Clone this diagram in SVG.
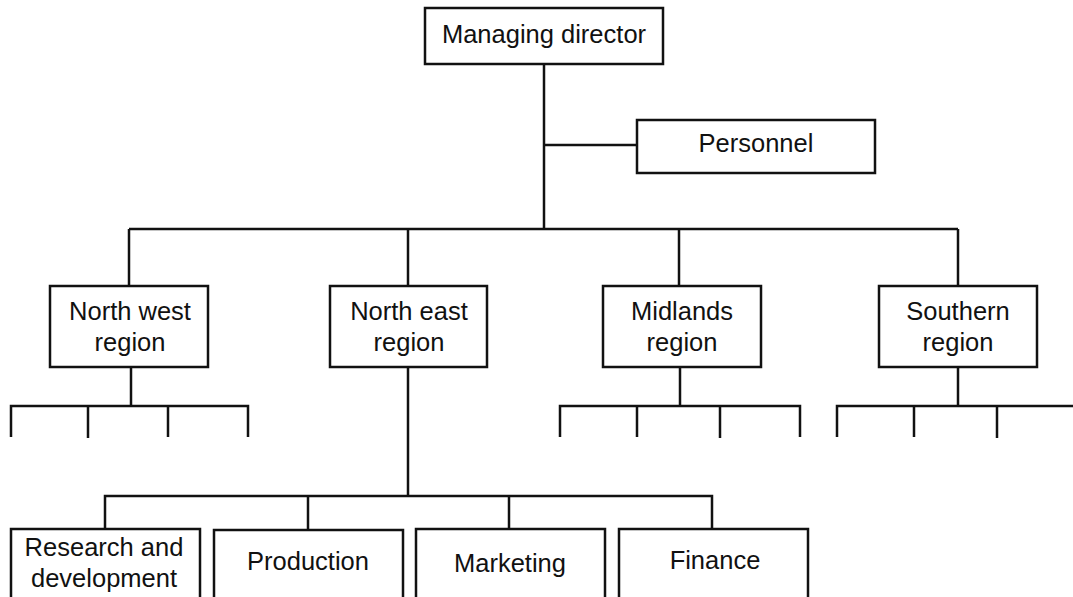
<svg xmlns="http://www.w3.org/2000/svg" width="1073" height="597" viewBox="0 0 1073 597">
  <style>
    .box { fill: #ffffff; stroke: #111111; stroke-width: 2.5; }
    .wire { fill: none; stroke: #111111; stroke-width: 2.5; stroke-linecap: butt; }
    .label { font-family: "Liberation Sans", Arial, Helvetica, sans-serif; font-size: 25.5px; fill: #111111; text-anchor: middle; }
  </style>
  <rect width="1073" height="597" fill="#ffffff"/>

  <!-- connectors -->
  <g id="connectors" class="wire">
    <!-- managing director trunk and personnel branch -->
    <path d="M544 64 V229"/>
    <path d="M544 145 H637"/>
    <!-- regional bus -->
    <path d="M129 229 H958"/>
    <path d="M129 229 V286"/>
    <path d="M408 229 V286"/>
    <path d="M679 229 V286"/>
    <path d="M958 229 V286"/>
    <!-- north west sub-branches -->
    <path d="M131 367 V406"/>
    <path d="M11 437 V406 H248 V437"/>
    <path d="M88 406 V438"/>
    <path d="M168 406 V437"/>
    <!-- midlands sub-branches -->
    <path d="M680 367 V406"/>
    <path d="M560 437 V406 H800 V437"/>
    <path d="M637 406 V437"/>
    <path d="M720 406 V438"/>
    <!-- southern sub-branches -->
    <path d="M958 367 V406"/>
    <path d="M837 437 V406 H1073"/>
    <path d="M914 406 V437"/>
    <path d="M997 406 V438"/>
    <!-- north east departments -->
    <path d="M408 367 V496"/>
    <path d="M105 529 V496 H712 V529"/>
    <path d="M308 496 V530"/>
    <path d="M509 496 V529"/>
  </g>

  <g id="managing-director">
    <rect class="box" x="425" y="8" width="238" height="56"/>
    <text class="label" x="544" y="43">Managing director</text>
  </g>

  <g id="personnel">
    <rect class="box" x="637" y="120" width="238" height="53"/>
    <text class="label" x="756" y="152">Personnel</text>
  </g>

  <g id="north-west-region">
    <rect class="box" x="50" y="286" width="158" height="81"/>
    <text class="label" x="130" y="320">North west</text>
    <text class="label" x="130" y="351">region</text>
  </g>

  <g id="north-east-region">
    <rect class="box" x="330" y="286" width="157" height="81"/>
    <text class="label" x="409" y="320">North east</text>
    <text class="label" x="409" y="351">region</text>
  </g>

  <g id="midlands-region">
    <rect class="box" x="603" y="286" width="158" height="81"/>
    <text class="label" x="682" y="320">Midlands</text>
    <text class="label" x="682" y="351">region</text>
  </g>

  <g id="southern-region">
    <rect class="box" x="879" y="286" width="158" height="81"/>
    <text class="label" x="958" y="320">Southern</text>
    <text class="label" x="958" y="351">region</text>
  </g>

  <g id="research-and-development">
    <rect class="box" x="11" y="529" width="189" height="80"/>
    <text class="label" x="104" y="556">Research and</text>
    <text class="label" x="104" y="587">development</text>
  </g>

  <g id="production">
    <rect class="box" x="214" y="530" width="189" height="80"/>
    <text class="label" x="308" y="570">Production</text>
  </g>

  <g id="marketing">
    <rect class="box" x="416" y="529" width="189" height="80"/>
    <text class="label" x="510" y="572">Marketing</text>
  </g>

  <g id="finance">
    <rect class="box" x="619" y="529" width="189" height="80"/>
    <text class="label" x="715" y="569">Finance</text>
  </g>
</svg>
